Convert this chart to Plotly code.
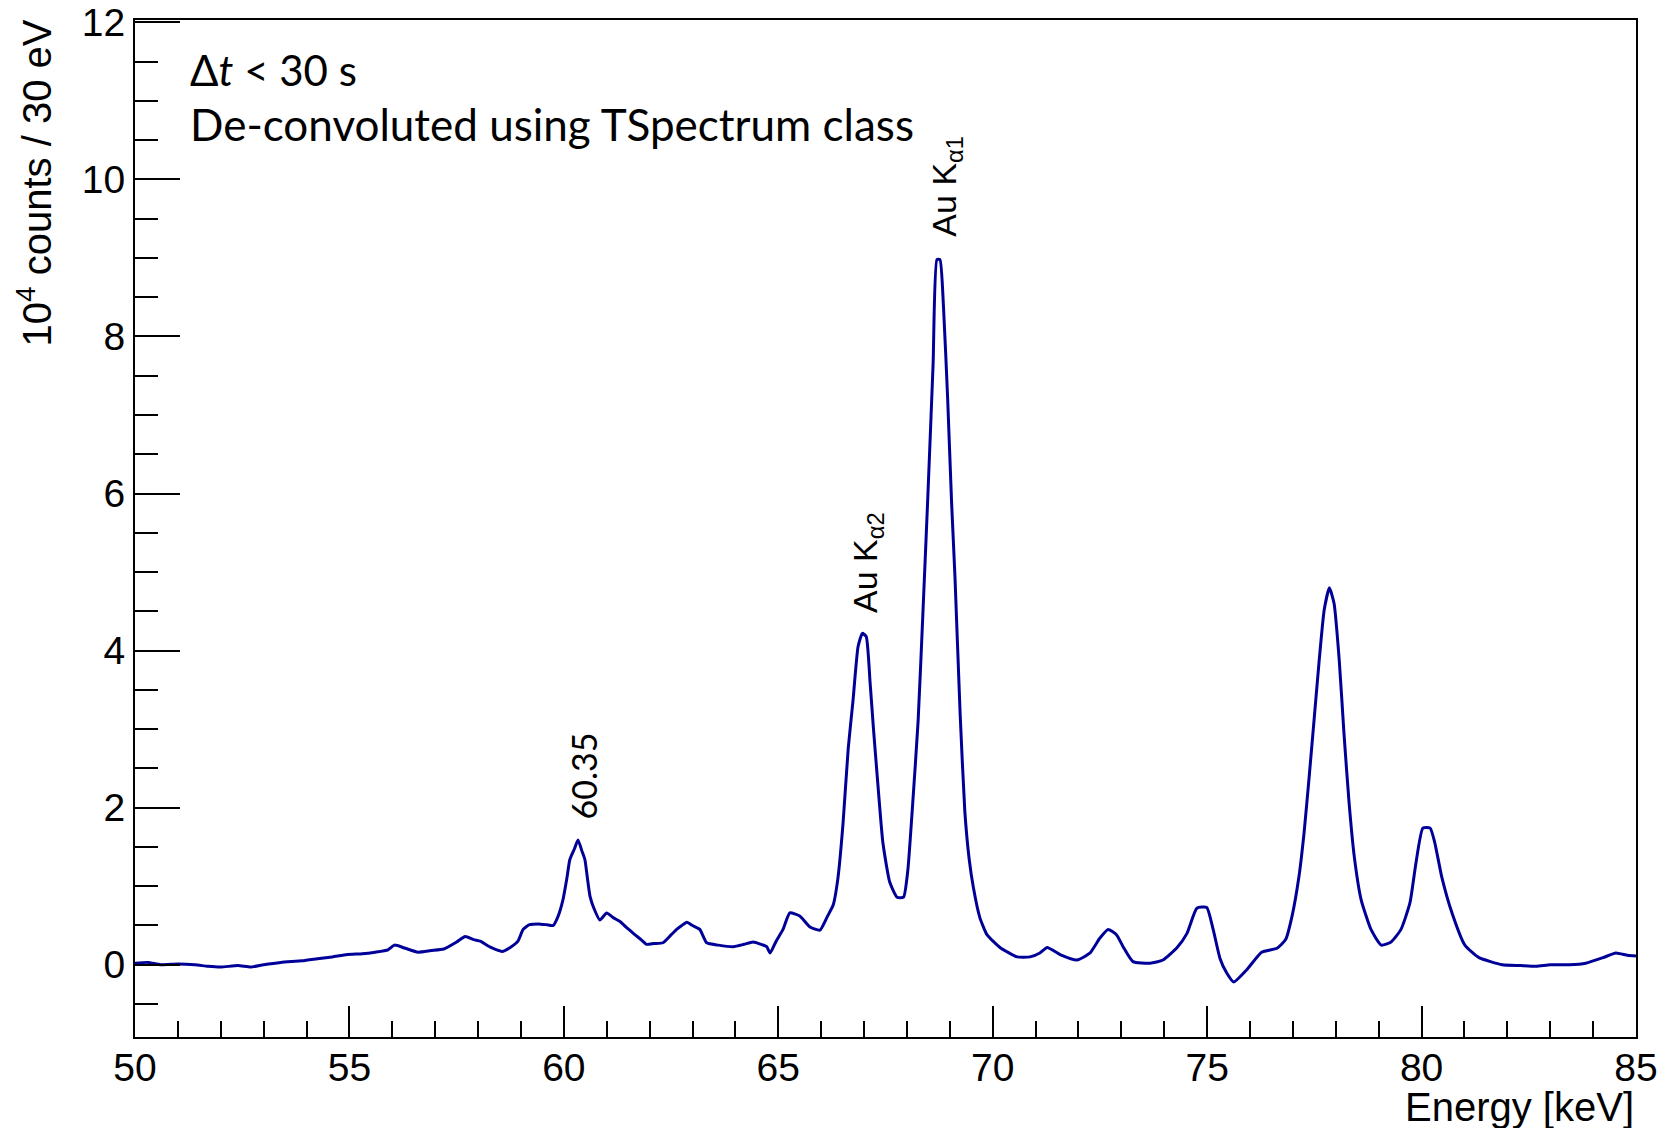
import plotly.graph_objects as go

# Energy (keV) and counts (10^4 counts / 30 eV)
energy = [
    50.0, 50.3, 50.6, 51.0, 51.4, 51.7, 52.0, 52.4, 52.7, 53.0, 53.4, 53.9, 54.3, 54.6,
    54.95, 55.3, 55.6, 55.9, 56.05, 56.3, 56.6, 56.9, 57.2, 57.5, 57.7, 57.9, 58.05, 58.3,
    58.56, 58.75, 58.93, 59.05, 59.2, 59.4, 59.6, 59.75, 59.86, 59.98, 60.07, 60.14, 60.25,
    60.33, 60.42, 60.49, 60.55, 60.61, 60.7, 60.84, 61.0, 61.15, 61.31, 61.45, 61.62, 61.8,
    61.93, 62.1, 62.31, 62.5, 62.63, 62.75, 62.87, 63.0, 63.17, 63.33, 63.6, 63.95, 64.2,
    64.41, 64.6, 64.73, 64.81, 64.95, 65.11, 65.27, 65.5, 65.74, 65.97, 66.14, 66.28, 66.39,
    66.51, 66.63, 66.74, 66.86, 66.96, 67.05, 67.14, 67.22, 67.3, 67.44, 67.6, 67.77, 67.92,
    68.02, 68.14, 68.26, 68.37, 68.49, 68.61, 68.7, 68.77, 68.85, 68.95, 69.04, 69.12, 69.24,
    69.35, 69.45, 69.55, 69.7, 69.87, 70.17, 70.57, 70.87, 71.1, 71.27, 71.57, 71.97, 72.27,
    72.5, 72.69, 72.89, 73.04, 73.27, 73.67, 73.97, 74.3, 74.53, 74.76, 74.99, 75.14, 75.3,
    75.45, 75.62, 75.93, 76.27, 76.63, 76.83, 76.98, 77.14, 77.26, 77.38, 77.5, 77.62, 77.73,
    77.85, 77.96, 78.08, 78.19, 78.31, 78.43, 78.59, 78.82, 79.06, 79.29, 79.52, 79.73, 79.87,
    80.03, 80.2, 80.31, 80.47, 80.71, 81.01, 81.34, 81.88, 82.3, 82.67, 83.0, 83.44, 83.83,
    84.23, 84.53, 84.8, 85.0,
]
counts = [
    0.02, 0.03, 0.0, 0.01, 0.0, -0.02, -0.03, -0.01, -0.03, 0.0, 0.03, 0.05, 0.08, 0.10,
    0.13, 0.14, 0.16, 0.19, 0.25, 0.21, 0.16, 0.18, 0.20, 0.29, 0.36, 0.32, 0.30, 0.22,
    0.17, 0.22, 0.30, 0.45, 0.51, 0.52, 0.51, 0.50, 0.61, 0.83, 1.10, 1.34, 1.48,
    1.59, 1.45, 1.34, 1.10, 0.87, 0.72, 0.57, 0.66, 0.60, 0.55, 0.48, 0.40, 0.32,
    0.26, 0.27, 0.28, 0.38, 0.45, 0.50, 0.54, 0.50, 0.45, 0.28, 0.25, 0.23, 0.26,
    0.29, 0.26, 0.23, 0.15, 0.30, 0.45, 0.66, 0.62, 0.48, 0.44, 0.61, 0.76, 1.10,
    1.80, 2.75, 3.35, 4.05, 4.22, 4.18, 3.60, 3.00, 2.45, 1.55, 1.05, 0.86, 0.86,
    1.20, 2.10, 3.10, 4.45, 6.00, 7.65, 8.98, 8.98, 8.40, 7.20, 5.90, 4.94, 3.20,
    1.95, 1.35, 0.98, 0.60, 0.38, 0.22, 0.10, 0.10, 0.15, 0.22, 0.13, 0.06, 0.15,
    0.34, 0.45, 0.38, 0.23, 0.04, 0.02, 0.06, 0.22, 0.40, 0.72, 0.73, 0.45, 0.08,
    -0.10, -0.22, -0.06, 0.16, 0.21, 0.32, 0.62, 1.12, 1.68, 2.40, 3.16, 3.92, 4.52,
    4.80, 4.60, 3.88, 2.95, 2.06, 1.38, 0.83, 0.45, 0.25, 0.29, 0.45, 0.79, 1.30,
    1.74, 1.74, 1.55, 1.12, 0.66, 0.25, 0.09, 0.0, -0.01, -0.02, 0.0, 0.0, 0.02,
    0.09, 0.15, 0.12, 0.11,
]

peak_labels = ["60.35", "Au K<sub>α2</sub>", "Au K<sub>α1</sub>"]
peak_label_x = [60.45, 67.09, 68.93]
peak_label_y = [1.82, 4.46, 9.25]

x_ticks = [50, 55, 60, 65, 70, 75, 80, 85]
y_ticks = [0, 2, 4, 6, 8, 10, 12]

fig = go.Figure()
fig.add_trace(go.Scatter(
    x=energy, y=counts, mode="lines",
    line=dict(color="#000099", width=3, shape="spline", smoothing=0.5),
    showlegend=False, hoverinfo="skip",
))

tick_font = dict(family="Liberation Sans, Arial, sans-serif", size=39, color="black")
title_font = dict(family="Liberation Sans, Arial, sans-serif", size=40, color="black")
text_font = "Lato, Open Sans, sans-serif"

fig.update_layout(
    width=1663, height=1128,
    margin=dict(l=135, r=27, t=20, b=91, autoexpand=False),
    paper_bgcolor="white", plot_bgcolor="white",
    xaxis=dict(
        range=[50, 85], tickvals=x_ticks, ticktext=[str(v) for v in x_ticks],
        ticks="inside", ticklen=31, tickwidth=2, tickcolor="black",
        minor=dict(dtick=1, tick0=50, ticks="inside", ticklen=16, tickwidth=2, tickcolor="black"),
        showline=True, linecolor="black", linewidth=2, mirror=True, automargin=False,
        showgrid=False, zeroline=False, tickfont=tick_font, ticklabelstandoff=-5,
    ),
    yaxis=dict(
        range=[-0.92, 12.03], tickvals=y_ticks, ticktext=[str(v) for v in y_ticks],
        ticks="inside", ticklen=45, tickwidth=2, tickcolor="black",
        minor=dict(dtick=0.5, tick0=0, ticks="inside", ticklen=23, tickwidth=2, tickcolor="black"),
        showline=True, linecolor="black", linewidth=2, mirror=True, automargin=False,
        showgrid=False, zeroline=False, tickfont=tick_font, ticklabelstandoff=0,
    ),
)

# Axis titles (ROOT style: right/top aligned)
fig.add_annotation(
    text="10<sup>4</sup> counts / 30 eV", textangle=-90, showarrow=False,
    xref="paper", yref="paper", x=-0.0666, y=1.002, xanchor="center", yanchor="top",
    font=title_font,
)
fig.add_annotation(
    text="Energy [keV]", showarrow=False,
    xref="paper", yref="paper", x=1.0, y=-0.069, xanchor="right", yanchor="middle",
    font=title_font,
)

# Info text
fig.add_annotation(
    text="Δ<i>t</i> < 30 s", showarrow=False, xref="paper", yref="paper",
    x=(188 - 135) / 1501, y=1 - (70 - 20) / 1017, xanchor="left", yanchor="middle",
    font=dict(family=text_font, size=42, color="black"),
)
fig.add_annotation(
    text="De-convoluted using TSpectrum class", showarrow=False, xref="paper", yref="paper",
    x=(188 - 135) / 1501, y=1 - (124 - 20) / 1017, xanchor="left", yanchor="middle",
    font=dict(family=text_font, size=44, color="black"),
)

# Peak labels
for lbl, px, py in zip(peak_labels, peak_label_x, peak_label_y):
    fig.add_annotation(
        text=lbl, x=px, y=py, xref="x", yref="y", showarrow=False, textangle=-90,
        xanchor="center", yanchor="bottom",
        font=dict(family="Liberation Sans, Arial, sans-serif" if lbl.startswith("Au") else text_font,
                  size=34, color="black"),
    )

fig.write_html("out.html")
